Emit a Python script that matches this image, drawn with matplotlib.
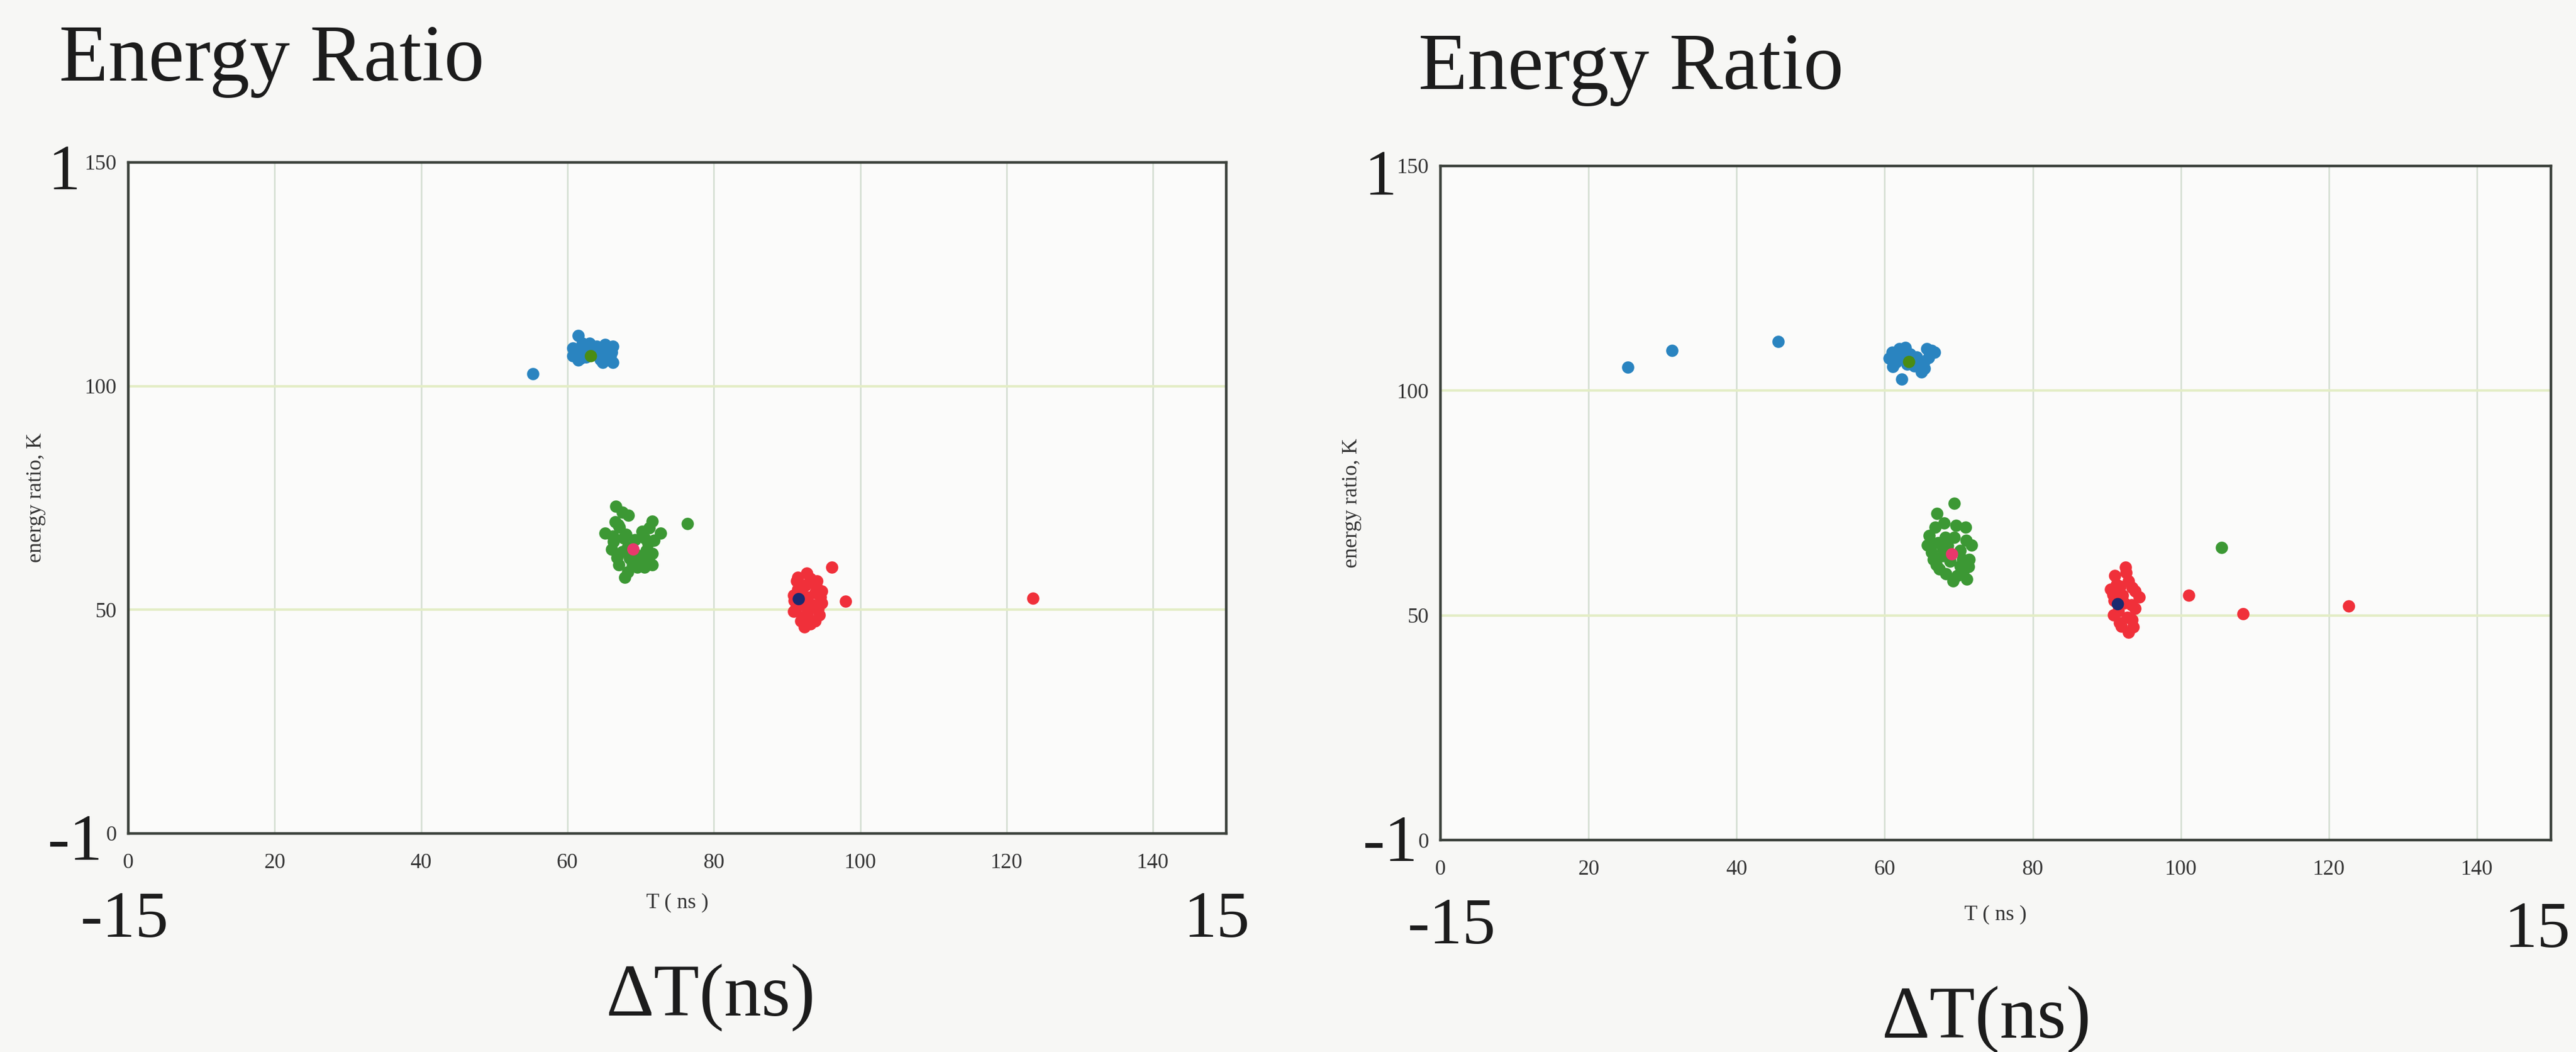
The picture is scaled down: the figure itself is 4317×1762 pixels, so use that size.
import matplotlib
matplotlib.use("Agg")
import matplotlib.pyplot as plt

# ---- data: left run ----
blue_left_x = [55.3, 61.5, 60.7, 60.7, 62.1, 62.9, 64.0, 65.1, 66.2, 65.9, 64.8, 66.2, 61.8, 64.0, 63.0, 65.5,
               61.0, 62.5, 63.5, 64.5, 65.5, 66.0, 62.0, 63.0, 64.8, 61.5]
blue_left_y = [102.8, 111.3, 108.5, 106.7, 108.0, 108.9, 108.9, 109.3, 108.9, 106.7, 105.3, 105.3, 106.2, 107.1, 107.5, 107.8,
               107.5, 106.5, 108.0, 106.0, 106.5, 107.5, 109.5, 109.5, 108.2, 105.8]

green_left_x = [66.6, 68.3, 65.1, 71.6, 72.7, 67.8, 69.2, 66.8, 71.6, 71.0, 67.1, 70.5, 68.9, 66.3,
                71.6, 67.7, 69.2, 66.5, 68.2, 70.5, 71.0, 67.5, 70.0, 66.0, 67.0, 68.5, 69.8,
                70.8, 68.0, 66.9, 70.2, 71.8, 69.5, 67.5, 71.2, 66.2, 68.2, 76.4]
green_left_y = [73.1, 71.1, 67.1, 69.8, 67.1, 57.3, 62.6, 61.7, 60.0, 64.8, 68.4, 59.5, 60.0, 65.2,
                62.6, 66.1, 65.6, 69.7, 64.0, 66.1, 61.7, 63.0, 60.8, 63.5, 60.0, 61.5, 62.0,
                63.2, 66.8, 69.0, 67.5, 65.5, 59.5, 71.8, 68.3, 66.5, 58.5, 69.3]

red_left_x = [92.7, 91.3, 94.1, 94.7, 90.9, 92.8, 94.7, 90.9, 92.8, 94.4, 91.9, 93.8, 92.4, 92.5,
              93.4, 91.9, 91.5, 94.6, 91.5, 93.2, 92.0, 93.8, 91.2, 93.0, 94.2, 92.2, 93.2,
              91.0, 94.0, 96.1, 98.0, 123.6]
red_left_y = [58.2, 56.4, 56.4, 54.2, 53.3, 52.9, 51.5, 49.7, 49.3, 48.9, 47.5, 47.5, 46.2, 55.5,
              51.1, 51.1, 54.6, 52.9, 57.2, 57.0, 53.5, 53.8, 50.5, 50.2, 50.2, 48.4, 46.8,
              52.0, 55.3, 59.5, 51.9, 52.6]

# cluster centres: (blue, green, red)
centre_left_x = [63.2, 69.0, 91.6]
centre_left_y = [106.7, 63.5, 52.4]

# ---- data: right run ----
blue_right_x = [25.3, 31.3, 45.6, 62.0, 60.6, 61.1, 63.4, 65.7, 66.7, 65.3, 65.0, 62.3, 63.0, 64.3, 61.8,
                61.5, 62.6, 64.0, 65.9, 66.3, 62.8, 64.6, 61.0, 65.4]
blue_right_y = [105.2, 109.0, 111.0, 109.4, 107.2, 105.4, 108.1, 109.4, 108.5, 106.3, 104.1, 102.6, 105.9, 107.5, 108.3,
                106.3, 107.8, 105.5, 107.4, 109.0, 109.6, 106.8, 108.5, 105.0]

green_right_x = [69.4, 67.1, 66.8, 70.9, 65.8, 68.2, 71.7, 66.6, 71.4, 67.4, 70.6, 69.2, 71.1, 68.8,
                 67.9, 69.4, 70.2, 66.5, 66.3, 67.2, 68.5, 70.2, 71.0, 67.0, 68.3, 69.8, 70.5,
                 68.0, 69.6, 66.0, 67.8, 71.3, 105.5]
green_right_y = [74.9, 72.7, 69.6, 69.6, 65.6, 67.4, 65.6, 62.5, 62.5, 60.3, 59.8, 57.6, 58.1, 62.0,
                 64.7, 67.4, 61.0, 66.0, 64.0, 66.2, 65.5, 64.5, 66.7, 61.3, 59.3, 58.8, 62.5,
                 70.5, 70.0, 67.8, 63.2, 60.8, 65.1]

red_right_x = [92.5, 91.1, 92.9, 90.5, 93.8, 94.4, 92.1, 93.3, 90.9, 92.8, 91.7, 93.6, 92.9, 91.8,
               91.3, 93.4, 91.0, 92.4, 93.8, 91.6, 93.4, 92.0, 92.6, 90.8,
               101.1, 108.4, 122.7]
red_right_y = [60.7, 58.9, 57.6, 55.8, 55.4, 54.1, 54.5, 52.3, 50.1, 49.6, 48.3, 47.4, 46.3, 56.5,
               56.8, 56.2, 53.3, 52.8, 51.5, 51.0, 49.0, 47.5, 59.5, 54.6,
               54.5, 50.3, 52.1]

centre_right_x = [63.3, 69.1, 91.5]
centre_right_y = [106.4, 63.6, 52.5]

x_ticks = [0, 20, 40, 60, 80, 100, 120, 140]
y_ticks = [0, 50, 100, 150]

# ---- style ----
W, H = 4317, 1762
SERIF = ["Liberation Serif", "DejaVu Serif"]
plt.rcParams["font.family"] = SERIF

BG = "#f7f7f5"
TXT = "#1c1c1c"
C_BLUE = "#2a84c0"
C_GREEN = "#3c9834"
C_RED = "#f0303a"
C_CENTRE = ["#4a8c14", "#e8386c", "#1a2a70"]
GRID_V = "#d6e0d4"
GRID_H = "#e3edc6"
FRAME = "#3c423c"
MS = 220

fig = plt.figure(figsize=(W / 100, H / 100), dpi=100, facecolor=BG)


def px(x, y):
    """pixel position -> figure fraction"""
    return x / W, 1 - y / H


def panel(rect, bx, by, gx, gy, rx, ry, cx, cy, ylab_x, xlab_y):
    ax = fig.add_axes(rect)
    ax.set_facecolor("#fbfbfa")
    ax.set_xlim(0, 150)
    ax.set_ylim(0, 150)
    ax.set_xticks(x_ticks)
    ax.set_yticks(y_ticks)
    ax.tick_params(length=0, labelsize=26, colors="#333333")
    ax.tick_params(axis="x", pad=24)
    ax.tick_params(axis="y", pad=14)
    for v in x_ticks[1:]:
        ax.axvline(v, color=GRID_V, lw=2.0, zorder=0)
    for v in y_ticks[1:3]:
        ax.axhline(v, color=GRID_H, lw=3.0, zorder=0)
    for s in ax.spines.values():
        s.set_color(FRAME)
        s.set_linewidth(3.2)
    ax.scatter(bx, by, s=MS, color=C_BLUE, lw=0, zorder=3)
    ax.scatter(gx, gy, s=MS, color=C_GREEN, lw=0, zorder=3)
    ax.scatter(rx, ry, s=MS, color=C_RED, lw=0, zorder=3)
    ax.scatter(cx, cy, s=MS, color=C_CENTRE, lw=0, zorder=4)
    ax.set_xlabel("T ( ns )", fontsize=26, color="#333333")
    ax.set_ylabel("energy ratio, K", fontsize=26, color="#333333")
    ax.yaxis.set_label_coords(ylab_x, 0.5)
    ax.xaxis.set_label_coords(0.5, xlab_y)
    return ax


panel([215 / W, 1 - 1396 / H, 1840 / W, 1124 / H],
      blue_left_x, blue_left_y, green_left_x, green_left_y,
      red_left_x, red_left_y, centre_left_x, centre_left_y, -0.075, -0.088)
panel([2414 / W, 1 - 1407 / H, 1861 / W, 1129 / H],
      blue_right_x, blue_right_y, green_right_x, green_right_y,
      red_right_x, red_right_y, centre_right_x, centre_right_y, -0.071, -0.096)

# slide annotations
big = dict(color=TXT, ha="left", va="baseline")
labels = [
    ("Energy Ratio", 99, 135, 97), ("Energy Ratio", 2377, 149, 97),
    ("1", 80, 317, 78), ("1", 2286, 326, 78),
    ("-1", 80, 1440, 80), ("-1", 2284, 1442, 80),
    ("-15", 135, 1569, 80), ("-15", 2359, 1580, 80),
    ("15", 1983, 1569, 80), ("15", 4196, 1586, 80),
    ("ΔT(ns)", 1015, 1701, 90), ("ΔT(ns)", 3153, 1738, 90),
]
for t, x, y, fs in labels:
    fig.text(*px(x, y), t, fontsize=fs, **big)

fig.savefig("out.png", dpi=100, facecolor=BG)
